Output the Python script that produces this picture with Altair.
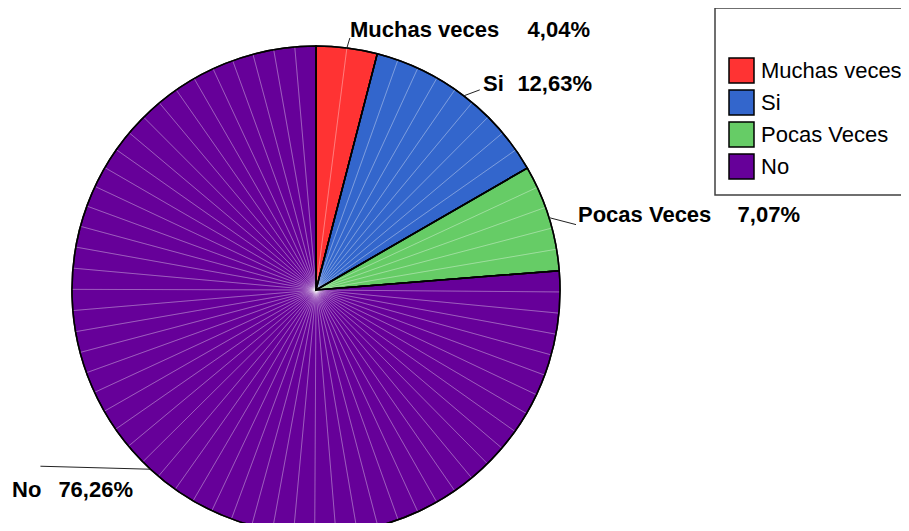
import math
import altair as alt
import pandas as pd

# ---- data ----
categories = ["Muchas veces", "Si", "Pocas Veces", "No"]
percents = [4.04, 12.63, 7.07, 76.26]
colors = ["#FF3333", "#3366CC", "#66CC66", "#660099"]
label_names = ["Muchas veces", "Si", "Pocas Veces", "No"]

# ---- layout (style), page coordinates converted to plot coordinates ----
OX, OY = 8, 8                       # page position of plot origin
CX, CY, R = 316 - OX, 290 - OY, 244  # pie centre / radius
facets = [2, 9, 5, 55]              # decorative radial facet count per slice
# leader end offset from slice edge point, name left x, pct right x, text y (page)
label_layout = {
    "Muchas veces": dict(dx=3, dy=-10, nx=350, px=590, ty=30),
    "Si": dict(dx=16, dy=-6, nx=483, px=592, ty=84),
    "Pocas Veces": dict(dx=27, dy=7, nx=578, px=800, ty=215),
    "No": dict(dx=-110, dy=-3, nx=12, px=133, ty=490),
}

main = pd.DataFrame({"cat": categories, "value": percents, "idx": list(range(len(categories)))})

rows = []
for i, (c, v) in enumerate(zip(categories, percents)):
    n = facets[i]
    for k in range(n):
        rows.append({"cat": c, "v": v / n, "gidx": i * 1000 + k})
sub = pd.DataFrame(rows)

lab_rows = []
cum = 0.0
total = sum(percents)
for c, v, name in zip(categories, percents, label_names):
    mid = (cum + v / 2) / total * 2 * math.pi
    cum += v
    ex = CX + R * math.sin(mid)
    ey = CY - R * math.cos(mid)
    L = label_layout[c]
    lab_rows.append({
        "cat": c, "name": name,
        "pct": ("%.2f%%" % v).replace(".", ","),
        "ex": ex, "ey": ey, "lx": ex + L["dx"], "ly": ey + L["dy"],
        "nx": L["nx"] - OX, "px": L["px"] - OX, "ty": L["ty"] - OY,
    })
labs = pd.DataFrame(lab_rows)

color_scale = alt.Scale(domain=categories, range=colors)

filled = alt.Chart(main).mark_arc(outerRadius=R, stroke="black", strokeWidth=1.5).encode(
    theta=alt.Theta("value:Q", stack=True),
    order=alt.Order("idx:Q"),
    color=alt.Color("cat:N", scale=color_scale, sort=categories,
                    legend=alt.Legend(title=" ")),
    x=alt.value(CX), y=alt.value(CY),
)

facet_lines = alt.Chart(sub).mark_arc(
    outerRadius=R, fill="transparent", stroke="white", strokeOpacity=0.25, strokeWidth=0.8
).encode(
    theta=alt.Theta("v:Q", stack=True),
    order=alt.Order("gidx:Q"),
    x=alt.value(CX), y=alt.value(CY),
)

outline = alt.Chart(main).mark_arc(
    outerRadius=R, fill="transparent", stroke="black", strokeWidth=1.5
).encode(
    theta=alt.Theta("value:Q", stack=True),
    order=alt.Order("idx:Q"),
    x=alt.value(CX), y=alt.value(CY),
)

leaders = alt.Chart(labs).mark_rule(color="#222222", strokeWidth=1).encode(
    x=alt.X("ex:Q", scale=None), y=alt.Y("ey:Q", scale=None),
    x2="lx:Q", y2="ly:Q",
)

names = alt.Chart(labs).mark_text(
    align="left", baseline="middle", font="Liberation Sans", fontWeight="bold",
    fontSize=22, color="black"
).encode(
    x=alt.X("nx:Q", scale=None), y=alt.Y("ty:Q", scale=None), text="name:N",
)

pcts = alt.Chart(labs).mark_text(
    align="right", baseline="middle", font="Liberation Sans", fontWeight="bold",
    fontSize=22, color="black"
).encode(
    x=alt.X("px:Q", scale=None), y=alt.Y("ty:Q", scale=None), text="pct:N",
)

chart = alt.layer(filled, facet_lines, outline, leaders, names, pcts).properties(
    width=893, height=515,
    autosize=alt.AutoSizeParams(type="none"),
    padding=0,
).configure_view(stroke=None).configure_legend(
    orient="none", legendX=715 - OX, legendY=8 - OY,
    padding=13, strokeColor="#404040", strokeWidth=1.5, fillColor="white",
    symbolType="square", symbolSize=625, symbolStrokeColor="black", symbolStrokeWidth=1.5,
    labelFont="Liberation Sans", labelFontSize=22, labelColor="black", labelOffset=6,
    titleFontSize=20, titlePadding=16, rowPadding=1, labelLimit=300,
)

chart.save("out.html", embed_options={"renderer": "svg", "actions": False})
